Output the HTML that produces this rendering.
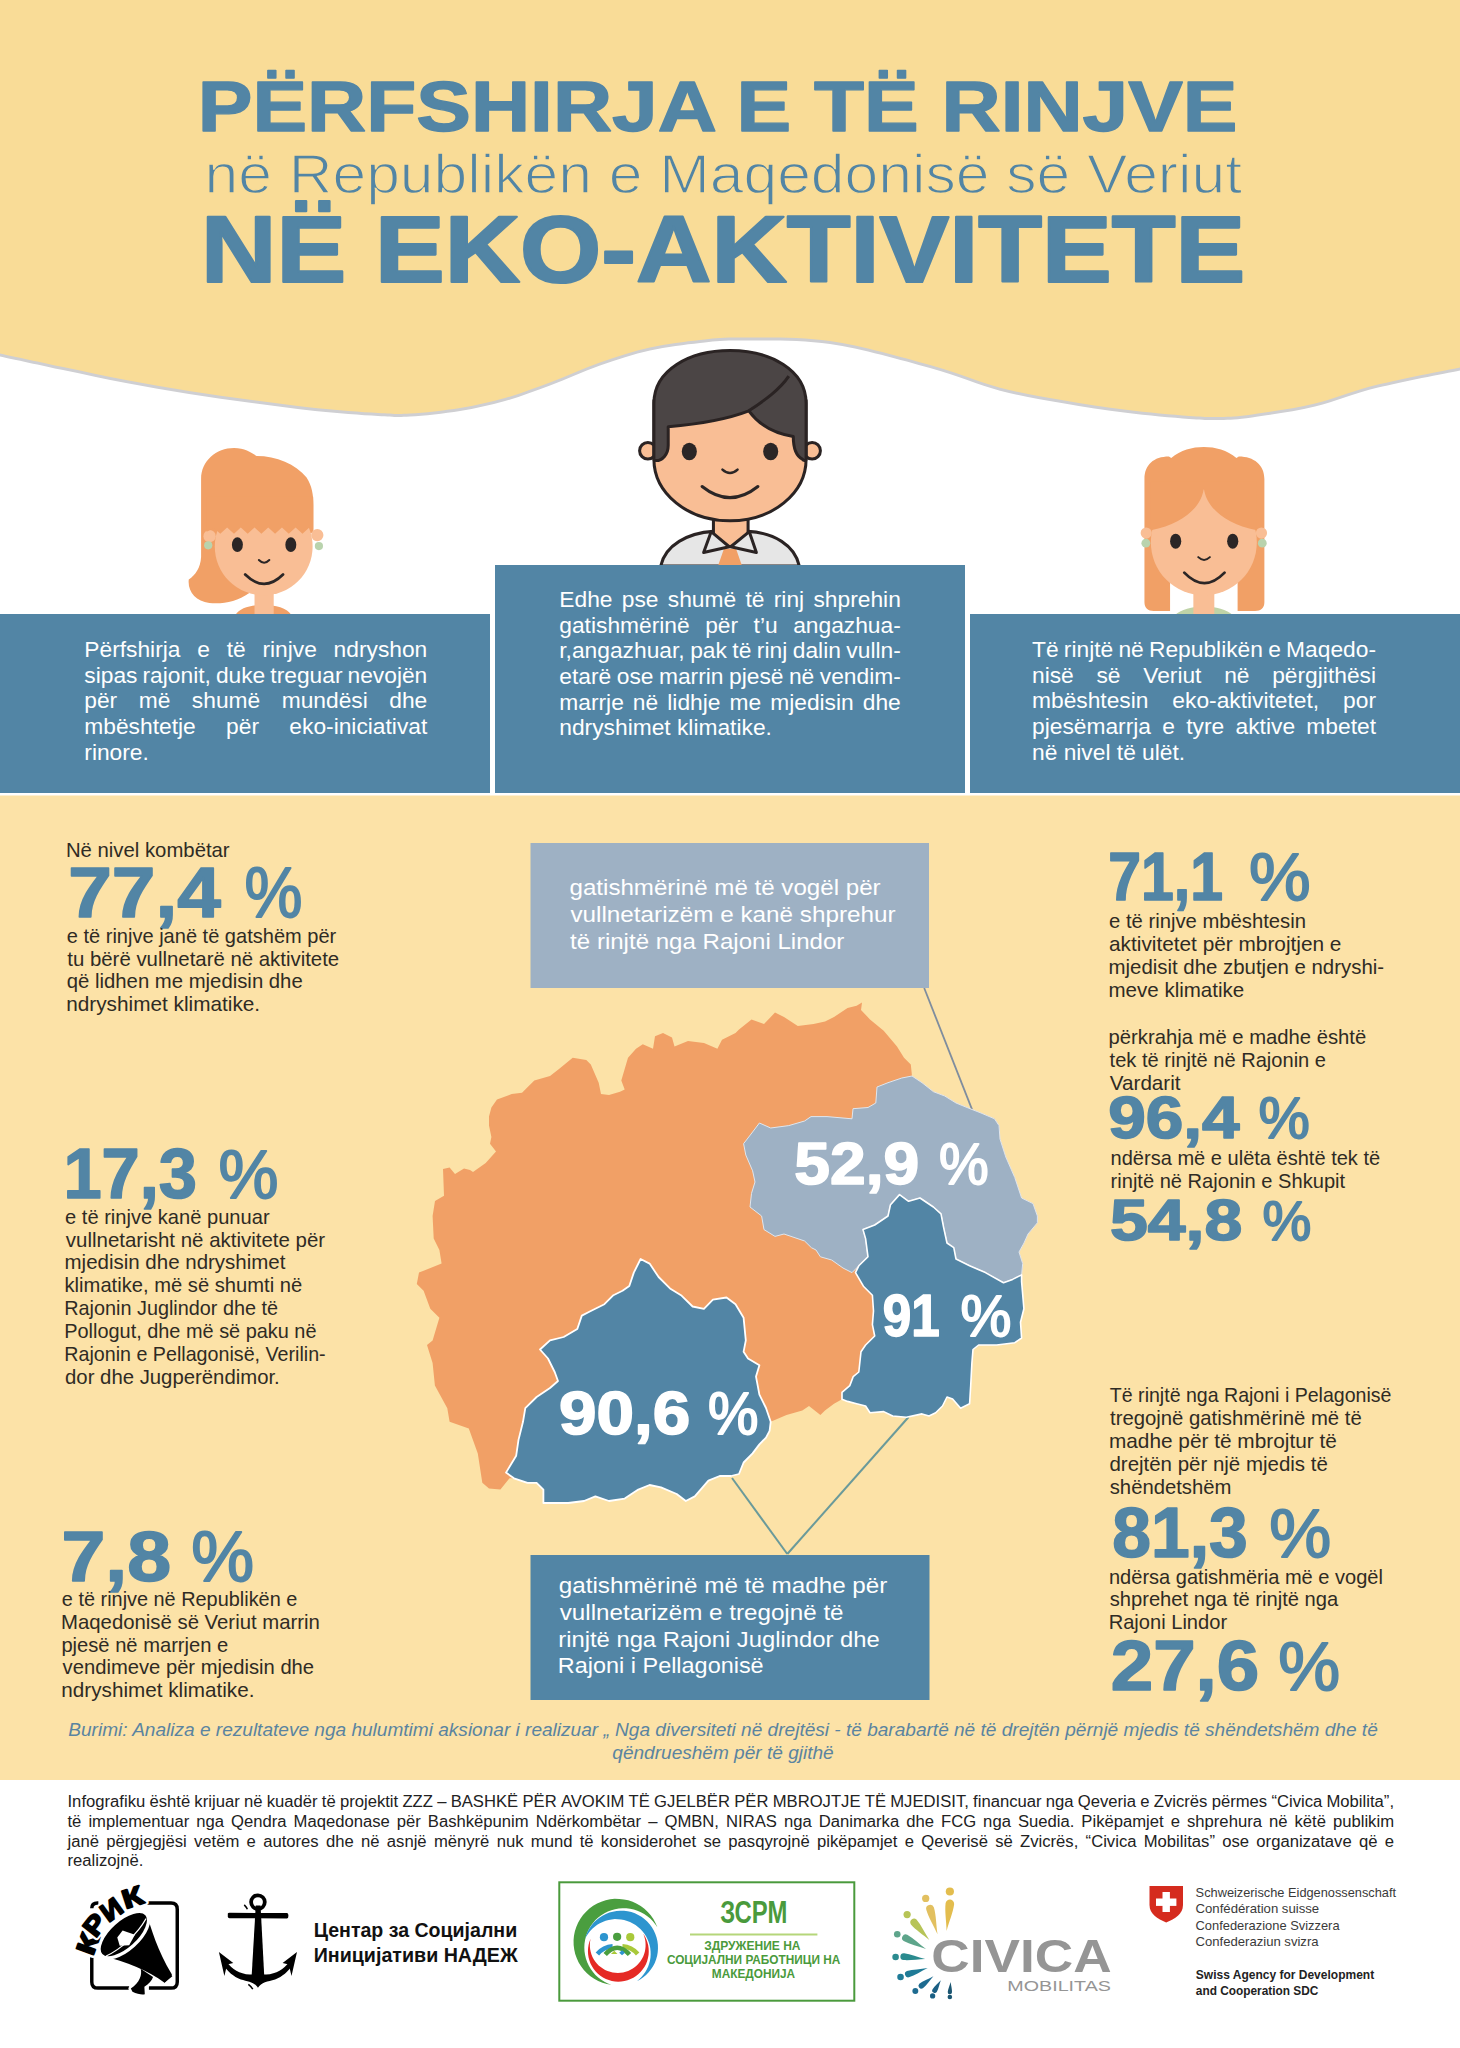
<!DOCTYPE html>
<html><head><meta charset="utf-8"><title>Përfshirja e të rinjve në eko-aktivitete</title>
<style>html,body{margin:0;padding:0;background:#fff}body{width:1460px;height:2048px;overflow:hidden;position:relative}svg{display:block}</style>
</head><body>
<svg width="1460" height="2048" viewBox="0 0 1460 2048">
<rect x="0" y="0" width="1460" height="2048" fill="#ffffff"/>
<rect x="0" y="795.5" width="1460" height="984.5" fill="#FCE2A7"/>
<path d="M-2,-2 L1462,-2 L1462,370  C1448.0,372.9 1402.5,381.5 1378.0,387.6 C1353.5,393.7 1336.0,401.5 1315.0,406.5 C1294.0,411.5 1267.8,415.2 1252.0,417.5 C1236.2,419.8 1230.5,419.8 1220.0,420.0 C1209.5,420.2 1204.7,420.2 1189.0,419.0 C1173.3,417.8 1147.0,415.4 1126.0,412.8 C1105.0,410.2 1084.0,407.0 1063.0,403.3 C1042.0,399.6 1022.2,396.6 1000.0,390.7 C977.8,384.8 958.3,375.8 930.0,368.0 C901.7,360.2 861.7,348.6 830.0,344.0 C798.3,339.4 761.7,340.7 740.0,340.5 C718.3,340.3 715.0,341.3 700.0,343.0 C685.0,344.7 666.7,346.8 650.0,350.5 C633.3,354.2 616.7,359.7 600.0,365.5 C583.3,371.3 565.8,379.6 550.0,385.5 C534.2,391.4 520.0,396.8 505.0,401.0 C490.0,405.2 475.8,408.4 460.0,411.0 C444.2,413.6 423.7,415.8 410.0,416.6 C396.3,417.4 393.8,416.9 378.0,416.0 C362.2,415.1 336.0,413.2 315.0,411.0 C294.0,408.8 273.0,405.8 252.0,403.0 C231.0,400.2 210.0,397.3 189.0,394.0 C168.0,390.7 147.0,387.0 126.0,383.0 C105.0,379.0 84.3,374.5 63.0,370.0 C41.7,365.5 8.8,358.3 -2.0,356.0 Z" fill="#cfcfd2"/>
<path d="M-2,-2 L1462,-2 L1462,367  C1448.0,369.9 1402.5,378.5 1378.0,384.6 C1353.5,390.7 1336.0,398.5 1315.0,403.5 C1294.0,408.5 1267.8,412.2 1252.0,414.5 C1236.2,416.8 1230.5,416.8 1220.0,417.0 C1209.5,417.2 1204.7,417.2 1189.0,416.0 C1173.3,414.8 1147.0,412.4 1126.0,409.8 C1105.0,407.2 1084.0,404.0 1063.0,400.3 C1042.0,396.6 1022.2,393.6 1000.0,387.7 C977.8,381.8 958.3,372.8 930.0,365.0 C901.7,357.2 861.7,345.6 830.0,341.0 C798.3,336.4 761.7,337.7 740.0,337.5 C718.3,337.3 715.0,338.3 700.0,340.0 C685.0,341.7 666.7,343.8 650.0,347.5 C633.3,351.2 616.7,356.7 600.0,362.5 C583.3,368.3 565.8,376.6 550.0,382.5 C534.2,388.4 520.0,393.8 505.0,398.0 C490.0,402.2 475.8,405.4 460.0,408.0 C444.2,410.6 423.7,412.8 410.0,413.6 C396.3,414.4 393.8,413.9 378.0,413.0 C362.2,412.1 336.0,410.2 315.0,408.0 C294.0,405.8 273.0,402.8 252.0,400.0 C231.0,397.2 210.0,394.3 189.0,391.0 C168.0,387.7 147.0,384.0 126.0,380.0 C105.0,376.0 84.3,371.5 63.0,367.0 C41.7,362.5 8.8,355.3 -2.0,353.0 Z" fill="#F9DC97"/>
<g transform="translate(620,340) scale(0.15069)"><g stroke="#2a2323" stroke-width="20" stroke-linejoin="round">
<path d="M270,1500 C300,1360 450,1280 620,1270 L850,1270 C1020,1280 1160,1360 1190,1500 Z" fill="#e6e6e6"/>
<path d="M650,1500 L690,1385 L770,1385 L810,1500 Z" fill="#F1A066" stroke="none"/>
<path d="M620,1190 L620,1290 C620,1340 670,1370 730,1370 C790,1370 850,1340 850,1290 L850,1190 Z" fill="#F9BE95"/>
<path d="M605,1272 L555,1410 L725,1372 Z" fill="#e6e6e6"/>
<path d="M858,1272 L905,1410 L735,1372 Z" fill="#e6e6e6"/>
<circle cx="185" cy="735" r="55" fill="#F9BE95"/>
<circle cx="1275" cy="735" r="55" fill="#F9BE95"/>
<path d="M225,400 L225,790 C225,1020 450,1200 730,1200 C1010,1200 1235,1020 1235,790 L1235,400 Z" fill="#F9BE95"/>
<path d="M225,790 L225,420 C225,200 460,70 730,70 C1000,70 1235,200 1235,420 L1235,790 C1235,800 1220,805 1210,790 C1170,770 1150,720 1150,640 C1020,620 920,560 855,470 C700,530 500,560 320,575 L320,700 C320,760 280,800 240,800 C232,800 225,796 225,790 Z" fill="#4b4545"/>
<path d="M855,470 C960,400 1060,330 1120,240" fill="none"/>
</g>
<ellipse cx="460" cy="740" rx="50" ry="58" fill="#2b2626"/>
<ellipse cx="1000" cy="740" rx="50" ry="58" fill="#2b2626"/>
<path d="M680,860 Q730,905 780,860" fill="none" stroke="#2b2626" stroke-width="17" stroke-linecap="round"/>
<path d="M545,972 Q730,1120 915,972" fill="none" stroke="#2b2626" stroke-width="20" stroke-linecap="round"/>
</g>
<g transform="translate(160,420) scale(0.13699)">
<path d="M550,1425 C580,1370 670,1350 755,1350 C840,1350 930,1370 960,1425 Z" fill="#F1A066"/>
<rect x="690" y="1230" width="140" height="200" fill="#F9BE95"/>
<path d="M300,430 C300,300 410,205 540,205 C620,205 665,240 705,262 C850,262 990,320 1070,420 C1110,480 1120,550 1120,620 L1120,820 L700,980 L652,1262 C560,1325 460,1345 360,1335 C260,1325 200,1250 210,1165 C260,1130 295,1080 300,1000 Z" fill="#F1A066"/>
<circle cx="362" cy="848" r="45" fill="#F9BE95"/>
<circle cx="1148" cy="840" r="45" fill="#F9BE95"/>
<circle cx="757" cy="923" r="357" fill="#F9BE95"/>
<path d="M340,560 L1118,560 L1118,800 L1090,785 L1040,830 L990,785 L940,830 L890,785 L840,830 L790,785 L740,830 L690,785 L640,830 L590,785 L540,830 L490,785 L440,830 L395,790 L340,815 Z" fill="#F1A066"/>
<circle cx="352" cy="915" r="30" fill="#b9d3ad"/>
<circle cx="1160" cy="920" r="30" fill="#b9d3ad"/>
<ellipse cx="565" cy="910" rx="40" ry="54" fill="#2b2626"/>
<ellipse cx="955" cy="910" rx="40" ry="54" fill="#2b2626"/>
<path d="M722,1022 Q760,1062 798,1022" fill="none" stroke="#2b2626" stroke-width="15" stroke-linecap="round"/>
<path d="M622,1128 Q760,1265 898,1128" fill="none" stroke="#2b2626" stroke-width="20" stroke-linecap="round"/>
</g>
<g transform="translate(1120,430) scale(0.11644)">
<path d="M470,1590 C520,1540 620,1515 720,1515 C820,1515 920,1540 970,1590 Z" fill="#bfd3a7"/>
<rect x="630" y="1330" width="180" height="270" fill="#F9BE95"/>
<path d="M210,420 C210,300 290,228 420,228 L440,240 C520,172 620,145 720,145 C820,145 920,172 1000,240 L1020,228 C1150,228 1240,300 1240,420 L1240,1480 C1240,1530 1210,1555 1160,1555 L1010,1555 L1010,1000 L430,1000 L430,1555 L290,1555 C240,1555 210,1530 210,1480 Z" fill="#F1A066"/>
<circle cx="225" cy="885" r="48" fill="#F9BE95"/>
<circle cx="1215" cy="885" r="48" fill="#F9BE95"/>
<circle cx="720" cy="965" r="455" fill="#F9BE95"/>
<path d="M720,495 C705,650 560,800 265,862 L265,440 L1175,440 L1175,862 C880,800 735,650 720,495 Z" fill="#F1A066"/>
<circle cx="222" cy="972" r="38" fill="#b9d3ad"/>
<circle cx="1222" cy="972" r="38" fill="#b9d3ad"/>
<ellipse cx="478" cy="955" rx="48" ry="65" fill="#2b2626"/>
<ellipse cx="968" cy="955" rx="48" ry="65" fill="#2b2626"/>
<path d="M672,1092 Q722,1140 772,1092" fill="none" stroke="#2b2626" stroke-width="17" stroke-linecap="round"/>
<path d="M552,1225 Q725,1405 898,1225" fill="none" stroke="#2b2626" stroke-width="24" stroke-linecap="round"/>
</g>
<rect x="0" y="614" width="490" height="179" fill="#5285A5"/>
<rect x="495" y="565" width="470" height="228" fill="#5285A5"/>
<rect x="970" y="614" width="490" height="179" fill="#5285A5"/>
<line x1="924.2" y1="988" x2="972.5" y2="1110.7" stroke="#7f8d9e" stroke-width="1.8"/>
<line x1="732" y1="1478" x2="787.3" y2="1554" stroke="#6a9a9a" stroke-width="2"/>
<line x1="908.6" y1="1417" x2="787.3" y2="1554" stroke="#6a9a9a" stroke-width="2"/>
<rect x="530.5" y="843" width="398.5" height="145" fill="#9EB1C4"/>
<rect x="530.5" y="1555" width="399" height="145" fill="#5285A5"/>
<g id="map">
<path d="M443.0,1169.0 L449.6,1167.4 L455.0,1174.0 L464.0,1168.6 L470.0,1170.0 L473.0,1172.0 L485.7,1163.0 L496.0,1151.6 L490.0,1143.7 L491.4,1137.0 L489.0,1125.6 L489.0,1116.6 L491.4,1107.5 L497.0,1099.6 L511.7,1094.0 L522.0,1092.8 L534.3,1080.4 L550.0,1076.0 L559.0,1069.0 L572.7,1057.8 L586.3,1060.0 L590.8,1064.6 L598.7,1082.7 L601.0,1094.0 L609.0,1095.0 L620.0,1091.7 L624.7,1089.5 L621.3,1080.4 L628.0,1057.8 L636.0,1048.8 L642.8,1044.2 L653.0,1048.8 L655.0,1036.3 L663.0,1033.0 L672.0,1037.5 L674.5,1046.5 L688.0,1041.0 L704.0,1043.0 L717.4,1048.8 L722.0,1039.7 L735.5,1033.0 L739.0,1029.6 L751.5,1019.4 L764.0,1024.0 L775.0,1012.6 L784.0,1017.0 L797.8,1026.0 L813.6,1024.0 L825.0,1021.6 L834.0,1017.0 L847.5,1008.0 L856.6,1005.8 L862.0,1002.4 L861.0,1010.0 L870.0,1019.4 L883.7,1030.7 L897.0,1046.5 L904.0,1057.8 L910.8,1064.6 L912.0,1076.0 L922.0,1082.7 L933.4,1091.7 L944.7,1096.0 L956.0,1103.0 L967.0,1107.5 L981.0,1113.0 L994.5,1118.8 L999.0,1125.6 L1000.0,1139.0 L1005.8,1157.0 L1014.8,1177.6 L1021.6,1198.0 L1033.0,1203.6 L1037.4,1216.0 L1037.4,1222.8 L1028.0,1234.0 L1024.0,1243.0 L1019.0,1252.0 L1022.7,1263.6 L1021.6,1274.9 L1021.6,1281.6 L1023.9,1308.8 L1020.5,1322.3 L1021.6,1338.0 L1014.8,1342.7 L996.7,1345.0 L978.6,1345.0 L973.0,1349.5 L971.9,1363.0 L970.7,1385.6 L969.6,1403.7 L960.6,1408.2 L952.6,1399.0 L947.0,1397.0 L942.5,1406.0 L935.7,1412.7 L929.0,1416.0 L922.0,1413.9 L906.3,1417.3 L892.7,1416.0 L883.7,1411.6 L870.0,1412.7 L865.6,1406.0 L856.6,1403.7 L847.5,1401.4 L842.0,1399.2 L834.0,1403.7 L825.0,1410.5 L820.4,1415.0 L809.0,1406.0 L802.3,1410.5 L786.5,1415.0 L770.7,1421.8 L769.6,1430.8 L766.0,1437.6 L759.4,1444.4 L752.6,1453.4 L743.6,1462.5 L739.0,1474.0 L731.0,1476.0 L719.7,1476.0 L708.4,1480.6 L694.8,1496.4 L685.8,1501.0 L676.7,1494.0 L661.0,1487.3 L649.6,1485.0 L638.3,1489.6 L624.7,1498.6 L609.0,1501.0 L595.4,1496.4 L584.0,1501.0 L568.2,1503.0 L543.4,1503.0 L543.4,1489.6 L536.6,1482.8 L527.5,1482.8 L514.0,1478.3 L509.5,1478.3 L500.4,1489.6 L489.0,1488.5 L482.3,1482.8 L477.8,1453.4 L468.8,1428.6 L449.6,1421.8 L447.3,1408.2 L434.9,1385.6 L432.6,1363.0 L427.0,1345.0 L432.6,1340.4 L439.4,1317.8 L430.3,1308.8 L423.6,1290.7 L416.8,1284.0 L419.0,1272.6 L441.6,1263.6 L439.4,1250.0 L433.7,1238.6 L432.6,1216.0 L435.0,1201.0 L444.0,1195.7 Z" fill="#F1A066"/>
<path d="M912.0,1076.0 L922.0,1082.7 L933.4,1091.7 L944.7,1096.0 L956.0,1103.0 L967.0,1107.5 L981.0,1113.0 L994.5,1118.8 L999.0,1125.6 L1000.0,1139.0 L1005.8,1157.0 L1014.8,1177.6 L1021.6,1198.0 L1033.0,1203.6 L1037.4,1216.0 L1037.4,1222.8 L1028.0,1234.0 L1024.0,1243.0 L1019.0,1252.0 L1022.7,1263.6 L1021.6,1274.9 L1012.6,1279.4 L1003.5,1282.8 L985.4,1272.6 L969.6,1265.8 L956.0,1259.0 L953.8,1250.0 L947.0,1243.0 L943.6,1227.3 L941.0,1213.8 L933.4,1207.0 L920.0,1198.0 L908.6,1201.3 L899.5,1194.6 L890.5,1204.7 L888.0,1216.0 L874.7,1225.0 L863.0,1229.6 L865.6,1238.6 L868.0,1256.8 L858.8,1265.8 L852.0,1272.6 L843.0,1268.0 L831.7,1260.0 L820.4,1256.8 L816.0,1250.0 L811.4,1247.7 L804.6,1241.0 L784.0,1234.0 L775.0,1236.4 L764.0,1229.6 L761.6,1216.0 L750.0,1207.0 L751.5,1193.4 L755.0,1182.0 L752.6,1170.8 L745.8,1155.0 L743.6,1143.7 L752.6,1132.0 L759.4,1123.0 L770.7,1128.0 L788.8,1125.6 L804.6,1121.0 L811.0,1116.6 L827.0,1116.6 L852.0,1118.8 L853.0,1108.7 L868.0,1107.5 L875.8,1103.0 L877.0,1087.0 L888.0,1082.7 L901.8,1078.0 Z" fill="#9EB1C4" stroke="#dfe6ee" stroke-width="1" stroke-linejoin="round"/>
<path d="M863.0,1229.6 L874.7,1225.0 L888.0,1216.0 L890.5,1204.7 L899.5,1194.6 L908.6,1201.3 L920.0,1198.0 L933.4,1207.0 L941.0,1213.8 L943.6,1227.3 L947.0,1243.0 L953.8,1247.7 L956.0,1259.0 L969.6,1265.8 L985.4,1272.6 L1003.5,1282.8 L1012.6,1279.4 L1021.6,1274.9 L1021.6,1281.6 L1023.9,1308.8 L1020.5,1322.3 L1021.6,1338.0 L1014.8,1342.7 L996.7,1345.0 L978.6,1345.0 L973.0,1349.5 L971.9,1363.0 L970.7,1385.6 L969.6,1403.7 L960.6,1408.2 L952.6,1399.0 L947.0,1397.0 L942.5,1406.0 L935.7,1412.7 L929.0,1416.0 L922.0,1413.9 L906.3,1417.3 L892.7,1416.0 L883.7,1411.6 L870.0,1412.7 L865.6,1406.0 L856.6,1403.7 L847.5,1401.4 L842.0,1399.2 L842.0,1392.4 L849.8,1385.6 L853.2,1376.6 L858.8,1372.0 L861.0,1351.7 L865.6,1345.0 L874.7,1336.0 L872.4,1324.6 L873.5,1311.0 L872.4,1295.2 L863.4,1286.2 L855.5,1272.6 L858.8,1265.8 L868.0,1256.8 L865.6,1238.6 Z" fill="#5285A5" stroke="#ffffff" stroke-width="1.6" stroke-linejoin="round"/>
<path d="M640.6,1259.0 L649.6,1263.6 L658.6,1277.0 L670.0,1288.4 L681.0,1295.2 L692.6,1306.5 L703.9,1308.8 L712.9,1299.7 L726.5,1297.5 L735.5,1304.2 L743.6,1317.8 L745.8,1340.4 L743.6,1351.7 L748.0,1358.5 L759.4,1365.3 L756.0,1376.6 L759.4,1394.7 L766.0,1408.0 L770.7,1421.8 L769.6,1430.8 L766.0,1437.6 L759.4,1444.4 L752.6,1453.4 L743.6,1462.5 L739.0,1474.0 L731.0,1476.0 L719.7,1476.0 L708.4,1480.6 L694.8,1496.4 L685.8,1501.0 L676.7,1494.0 L661.0,1487.3 L649.6,1485.0 L638.3,1489.6 L624.7,1498.6 L609.0,1501.0 L595.4,1496.4 L584.0,1501.0 L568.2,1503.0 L543.4,1503.0 L543.4,1489.6 L536.6,1482.8 L527.5,1482.8 L514.0,1478.3 L506.0,1472.6 L516.2,1455.7 L518.5,1439.9 L523.0,1421.8 L525.3,1408.2 L536.6,1397.0 L550.0,1388.0 L558.0,1381.0 L554.7,1372.0 L548.0,1358.5 L540.0,1349.5 L550.0,1340.4 L563.7,1337.0 L577.3,1329.0 L581.8,1315.6 L590.8,1311.0 L604.4,1304.2 L613.4,1295.2 L622.5,1290.7 L629.3,1286.0 L633.8,1272.6 Z" fill="#5285A5" stroke="#ffffff" stroke-width="1.8" stroke-linejoin="round"/>
</g>
<g transform="translate(70,1880) scale(0.08219)">
<path d="M940,280 L1230,280 Q1305,280 1305,355 L1305,1240 Q1305,1315 1230,1315 L960,1315 M720,1315 L340,1315 Q265,1315 265,1240 L265,940 M265,345 Q265,280 335,280 L345,280" fill="none" stroke="#000" stroke-width="42"/>
<g stroke="#fff" stroke-width="60" stroke-linejoin="round">
<path d="M934,414 C990,600 1060,850 1240,1150 L1150,1250 C950,1100 700,1000 376,916 Z" fill="#000"/>
<path d="M860,1080 C880,1150 850,1250 740,1320 L760,1360 C820,1390 880,1400 910,1390 L905,1300 C960,1260 1000,1220 1010,1180 Z" fill="#000"/>
</g>
<path d="M934,414 C990,600 1060,850 1240,1150 L1150,1250 C950,1100 700,1000 376,916 Z" fill="#000"/>
<path d="M860,1080 C880,1150 850,1250 740,1320 L760,1360 C820,1390 880,1400 910,1390 L905,1300 C960,1260 1000,1220 1010,1180 Z" fill="#000"/>
<path d="M1110,1150 L1200,1100 L1245,1170 L1150,1250 Z" fill="#000"/>
<ellipse cx="655" cy="665" rx="372" ry="178" transform="rotate(-42 655 665)" fill="#000" stroke="#fff" stroke-width="40"/>
<path d="M440,925 C620,840 820,660 925,470" stroke="#fff" stroke-width="14" fill="none"/>
<path d="M575,700 L640,615 L790,665 L720,795 L605,800 Z" fill="#fff"/>
<text transform="translate(215,775) rotate(-70)" x="0" y="110" text-anchor="middle" style="font-family:'Liberation Sans',Arial,sans-serif;font-weight:700;font-size:320px" textLength="250" lengthAdjust="spacingAndGlyphs" fill="#fff" stroke="#fff" stroke-width="70" stroke-linejoin="round">К</text><text transform="translate(215,775) rotate(-70)" x="0" y="110" text-anchor="middle" style="font-family:'Liberation Sans',Arial,sans-serif;font-weight:700;font-size:320px" textLength="250" lengthAdjust="spacingAndGlyphs" fill="#000" stroke="#000" stroke-width="22" stroke-linejoin="round">К</text>
<text transform="translate(300,545) rotate(-52)" x="0" y="110" text-anchor="middle" style="font-family:'Liberation Sans',Arial,sans-serif;font-weight:700;font-size:320px" textLength="250" lengthAdjust="spacingAndGlyphs" fill="#fff" stroke="#fff" stroke-width="70" stroke-linejoin="round">Р</text><text transform="translate(300,545) rotate(-52)" x="0" y="110" text-anchor="middle" style="font-family:'Liberation Sans',Arial,sans-serif;font-weight:700;font-size:320px" textLength="250" lengthAdjust="spacingAndGlyphs" fill="#000" stroke="#000" stroke-width="22" stroke-linejoin="round">Р</text>
<text transform="translate(505,360) rotate(-36)" x="0" y="110" text-anchor="middle" style="font-family:'Liberation Sans',Arial,sans-serif;font-weight:700;font-size:320px" textLength="250" lengthAdjust="spacingAndGlyphs" fill="#fff" stroke="#fff" stroke-width="70" stroke-linejoin="round">И</text><text transform="translate(505,360) rotate(-36)" x="0" y="110" text-anchor="middle" style="font-family:'Liberation Sans',Arial,sans-serif;font-weight:700;font-size:320px" textLength="250" lengthAdjust="spacingAndGlyphs" fill="#000" stroke="#000" stroke-width="22" stroke-linejoin="round">И</text>
<text transform="translate(760,210) rotate(-18)" x="0" y="110" text-anchor="middle" style="font-family:'Liberation Sans',Arial,sans-serif;font-weight:700;font-size:320px" textLength="250" lengthAdjust="spacingAndGlyphs" fill="#fff" stroke="#fff" stroke-width="70" stroke-linejoin="round">К</text><text transform="translate(760,210) rotate(-18)" x="0" y="110" text-anchor="middle" style="font-family:'Liberation Sans',Arial,sans-serif;font-weight:700;font-size:320px" textLength="250" lengthAdjust="spacingAndGlyphs" fill="#000" stroke="#000" stroke-width="22" stroke-linejoin="round">К</text>
</g>
<g transform="translate(210,1885) scale(0.06849)">
<circle cx="700" cy="250" r="100" fill="none" stroke="#000" stroke-width="55"/>
<path d="M260,420 Q260,405 285,405 L1125,410 Q1145,412 1145,450 Q1145,488 1125,490 L285,484 Q260,482 260,465 Z" fill="#000"/>
<path d="M668,300 L738,300 L792,1330 L608,1330 Z" fill="#000"/>
<path d="M700,1500 C650,1420 560,1410 450,1380 C340,1340 260,1260 200,1180 L250,1130 C320,1220 430,1300 580,1305 L820,1305 C970,1300 1080,1220 1150,1130 L1200,1180 C1140,1260 1060,1340 950,1380 C840,1410 750,1420 700,1500 Z" fill="#000"/>
<path d="M130,980 L340,1140 L250,1160 L210,1330 Z" fill="#000"/>
<path d="M1270,980 L1060,1140 L1150,1160 L1190,1330 Z" fill="#000"/>
<path d="M500,290 Q530,320 545,355" stroke="#000" stroke-width="22" fill="none"/>
<path d="M560,1450 Q600,1480 625,1520" stroke="#000" stroke-width="22" fill="none"/>
</g>
<rect x="559.3" y="1882.3" width="295" height="118.4" fill="#fff" stroke="#4a9a3c" stroke-width="2"/><g transform="translate(560,1885) scale(0.08219)"><path d="M1185,515 L1163,464 L1136,415 L1104,369 L1068,327 L1027,290 L982,256 L934,228 L884,205 L831,187 L776,175 L721,169 L665,168 L610,174 L556,186 L503,203 L452,225 L403,253 L358,286 L317,324 L280,365 L248,410 L220,459 L198,510 L181,563 L170,618 L165,673 L166,729 L173,784 L185,838 L204,891 L227,942 L256,989 L290,1034 L328,1074 L370,1110 L416,1142 L465,1168 L517,1190 L570,1205 L625,1215 L582,1199 L541,1178 L502,1154 L465,1125 L431,1094 L401,1059 L374,1022 L351,982 L331,940 L316,897 L305,852 L298,807 L296,761 L298,715 L305,669 L316,624 L331,581 L351,539 L374,499 L401,462 L431,427 L465,396 L502,368 L541,343 L582,323 L625,306 L669,294 L715,286 L761,282 L807,283 L853,289 L898,298 L942,312 L984,331 L1024,353 L1063,379 L1098,408 L1130,441 L1159,477 Z" fill="#4a9e3f"/><path d="M305,655 L318,612 L335,570 L357,530 L382,492 L411,457 L444,426 L479,397 L517,373 L558,352 L600,336 L644,324 L688,316 L733,313 L779,314 L824,320 L868,330 L911,345 L952,364 L991,387 L1027,414 L1061,445 L1091,478 L1118,515 L1141,554 L1160,595 L1175,638 L1185,682 L1191,727 L1192,772 L1189,818 L1182,862 L1169,906 L1153,948 L1132,988 L1107,1026 L1079,1062 L1047,1094 L1013,1123 L975,1149 L935,1170 L964,1146 L991,1119 L1016,1090 L1038,1059 L1057,1026 L1073,991 L1085,956 L1095,919 L1101,881 L1103,843 L1102,805 L1098,768 L1090,730 L1079,694 L1065,659 L1047,625 L1027,593 L1003,563 L978,535 L949,510 L919,487 L886,467 L852,450 L817,437 L780,426 L743,419 L705,416 L667,415 L629,419 L592,425 L555,435 L519,449 L485,465 L453,485 L422,507 L393,532 L367,560 L344,590 L323,621 Z" fill="#2d95cf"/><path d="M372,655 L358,691 L348,728 L342,767 L340,805 L342,844 L348,882 L358,919 L371,955 L389,990 L410,1022 L434,1052 L461,1080 L491,1104 L523,1125 L558,1143 L594,1157 L631,1167 L669,1174 L708,1176 L746,1174 L784,1168 L822,1159 L858,1145 L893,1128 L925,1107 L955,1083 L983,1056 L1007,1026 L1029,994 L1047,960 L1061,924 L1071,886 L1078,848 L1080,810 L1078,771 L1073,733 L1063,696 L1050,659 L1033,625 L1012,592 L1024,622 L1033,653 L1039,684 L1041,716 L1041,748 L1038,780 L1032,812 L1023,843 L1011,872 L996,901 L979,928 L959,953 L937,976 L912,997 L886,1016 L858,1032 L829,1046 L799,1056 L768,1064 L736,1068 L704,1070 L672,1069 L640,1064 L609,1057 L578,1046 L549,1033 L521,1017 L495,999 L470,978 L448,955 L428,930 L410,903 L395,875 L383,845 L374,814 L367,783 L364,751 L364,719 L366,687 Z" fill="#e52a25"/>
<circle cx="535" cy="635" r="50" fill="#2d95cf"/><circle cx="695" cy="630" r="50" fill="#4a9e3f"/><circle cx="855" cy="635" r="50" fill="#a9c93a"/>
<path d="M455,840 Q530,750 640,745" stroke="#2d95cf" stroke-width="55" fill="none"/>
<path d="M760,745 Q870,750 945,840" stroke="#a9c93a" stroke-width="55" fill="none"/>
<path d="M550,845 Q695,680 845,845" stroke="#4a9e3f" stroke-width="55" fill="none"/>
<path d="M620,840 L660,800 L700,840 Z" fill="#a9c93a"/><path d="M720,825 L755,795 L790,825 L755,855 Z" fill="#2d95cf"/>
</g><line x1="690" y1="1934.5" x2="817.4" y2="1934.5" stroke="#b5d67a" stroke-width="2"/>
<g transform="translate(880,1880) scale(0.16439)"><circle cx="425" cy="70" r="25" fill="#e3bd4e"/><path d="M405,310 C404,251 393,191 399,142 A26,26 0 0 1 451,148 C445,198 420,253 405,310 Z" fill="#e3bd4e"/><circle cx="278" cy="112" r="22" fill="#e2c060"/><path d="M350,330 C327,278 295,228 282,182 A24,24 0 0 1 328,168 C342,215 341,274 350,330 Z" fill="#e2c060"/><circle cx="165" cy="210" r="22" fill="#b7c457"/><path d="M300,365 C262,331 216,303 188,270 A23,23 0 0 1 222,240 C251,273 272,322 300,365 Z" fill="#b7c457"/><circle cx="105" cy="330" r="20" fill="#5ea58b"/><path d="M280,420 C233,402 182,392 144,371 A22,22 0 0 1 166,333 C203,353 239,390 280,420 Z" fill="#5ea58b"/><circle cx="95" cy="468" r="20" fill="#2b8b8f"/><path d="M275,480 C229,481 182,491 143,487 A21,21 0 0 1 147,445 C186,449 230,469 275,480 Z" fill="#2b8b8f"/><circle cx="125" cy="590" r="20" fill="#1f7b97"/><path d="M290,535 C250,554 212,581 176,592 A20,20 0 0 1 164,554 C200,543 246,543 290,535 Z" fill="#1f7b97"/><circle cx="215" cy="675" r="18" fill="#1e6b90"/><path d="M325,585 C302,610 284,641 261,659 A18,18 0 0 1 239,631 C261,613 295,602 325,585 Z" fill="#1e6b90"/><circle cx="320" cy="705" r="16" fill="#1a5f84"/><path d="M370,610 C361,634 357,661 346,680 A15,15 0 0 1 320,664 C331,646 353,629 370,610 Z" fill="#1a5f84"/><circle cx="425" cy="712" r="14" fill="#1b5672"/><path d="M430,620 C432,642 439,664 438,683 A13,13 0 0 1 412,681 C414,662 424,641 430,620 Z" fill="#1b5672"/></g>
<g id="swiss">
<path d="M1149.5,1886 L1183,1886 L1183,1905 C1183,1914 1175,1919 1166.2,1922.4 C1157.5,1919 1149.5,1914 1149.5,1905 Z" fill="#d52b1e"/>
<rect x="1162.5" y="1892" width="7.4" height="20" fill="#fff"/>
<rect x="1156" y="1898.5" width="20.4" height="7.4" fill="#fff"/>
</g>
<text x="197.72" y="130.50" textLength="1039.79" lengthAdjust="spacingAndGlyphs" style="font-family:'Liberation Sans', Arial, sans-serif;font-size:70.34883720930233px;font-weight:700;font-style:normal" fill="#5285A5"  stroke="#5285A5" stroke-width="1.4" stroke-linejoin="round">PËRFSHIRJA E TË RINJVE</text>
<text x="204.48" y="192.50" textLength="1037.57" lengthAdjust="spacingAndGlyphs" style="font-family:'Liberation Sans', Arial, sans-serif;font-size:55.08720930232558px;font-weight:300;font-style:normal" fill="#5285A5" stroke="#F9DC97" stroke-width="1.4" paint-order="fill">në Republikën e Maqedonisë së Veriut</text>
<text x="201.01" y="282.40" textLength="1044.06" lengthAdjust="spacingAndGlyphs" style="font-family:'Liberation Sans', Arial, sans-serif;font-size:93.8953488372093px;font-weight:700;font-style:normal" fill="#5285A5"  stroke="#5285A5" stroke-width="2.2" stroke-linejoin="round">NË EKO-AKTIVITETE</text>
<g style="font-family:'Liberation Sans', Arial, sans-serif;font-size:22px;font-weight:400;font-style:normal" fill="#ffffff"><text x="84.30" y="657.10" textLength="96.17" lengthAdjust="spacingAndGlyphs">Përfshirja</text><text x="197.23" y="657.10" textLength="12.68" lengthAdjust="spacingAndGlyphs">e</text><text x="226.67" y="657.10" textLength="19.00" lengthAdjust="spacingAndGlyphs">të</text><text x="262.44" y="657.10" textLength="54.42" lengthAdjust="spacingAndGlyphs">rinjve</text><text x="333.62" y="657.10" textLength="93.68" lengthAdjust="spacingAndGlyphs">ndryshon</text></g>
<g style="font-family:'Liberation Sans', Arial, sans-serif;font-size:22px;font-weight:400;font-style:normal" fill="#ffffff"><text x="84.30" y="682.70" textLength="53.16" lengthAdjust="spacingAndGlyphs">sipas</text><text x="142.50" y="682.70" textLength="68.36" lengthAdjust="spacingAndGlyphs">rajonit,</text><text x="215.90" y="682.70" textLength="49.39" lengthAdjust="spacingAndGlyphs">duke</text><text x="270.33" y="682.70" textLength="72.16" lengthAdjust="spacingAndGlyphs">treguar</text><text x="347.52" y="682.70" textLength="79.78" lengthAdjust="spacingAndGlyphs">nevojën</text></g>
<g style="font-family:'Liberation Sans', Arial, sans-serif;font-size:22px;font-weight:400;font-style:normal" fill="#ffffff"><text x="84.30" y="708.30" textLength="32.91" lengthAdjust="spacingAndGlyphs">për</text><text x="138.72" y="708.30" textLength="31.63" lengthAdjust="spacingAndGlyphs">më</text><text x="191.86" y="708.30" textLength="68.36" lengthAdjust="spacingAndGlyphs">shumë</text><text x="281.72" y="708.30" textLength="86.07" lengthAdjust="spacingAndGlyphs">mundësi</text><text x="389.30" y="708.30" textLength="38.00" lengthAdjust="spacingAndGlyphs">dhe</text></g>
<g style="font-family:'Liberation Sans', Arial, sans-serif;font-size:22px;font-weight:400;font-style:normal" fill="#ffffff"><text x="84.30" y="733.90" textLength="111.39" lengthAdjust="spacingAndGlyphs">mbështetje</text><text x="226.07" y="733.90" textLength="32.91" lengthAdjust="spacingAndGlyphs">për</text><text x="289.35" y="733.90" textLength="137.95" lengthAdjust="spacingAndGlyphs">eko-iniciativat</text></g>
<text x="84.30" y="759.50" textLength="64.54" lengthAdjust="spacingAndGlyphs" style="font-family:'Liberation Sans', Arial, sans-serif;font-size:22px;font-weight:400;font-style:normal" fill="#ffffff" >rinore.</text>
<g style="font-family:'Liberation Sans', Arial, sans-serif;font-size:22px;font-weight:400;font-style:normal" fill="#ffffff"><text x="559.30" y="607.10" textLength="53.19" lengthAdjust="spacingAndGlyphs">Edhe</text><text x="621.79" y="607.10" textLength="36.73" lengthAdjust="spacingAndGlyphs">pse</text><text x="667.82" y="607.10" textLength="68.36" lengthAdjust="spacingAndGlyphs">shumë</text><text x="745.48" y="607.10" textLength="19.00" lengthAdjust="spacingAndGlyphs">të</text><text x="773.78" y="607.10" textLength="30.37" lengthAdjust="spacingAndGlyphs">rinj</text><text x="813.46" y="607.10" textLength="87.34" lengthAdjust="spacingAndGlyphs">shprehin</text></g>
<g style="font-family:'Liberation Sans', Arial, sans-serif;font-size:22px;font-weight:400;font-style:normal" fill="#ffffff"><text x="559.30" y="632.70" textLength="130.36" lengthAdjust="spacingAndGlyphs">gatishmërinë</text><text x="705.18" y="632.70" textLength="32.91" lengthAdjust="spacingAndGlyphs">për</text><text x="753.60" y="632.70" textLength="24.06" lengthAdjust="spacingAndGlyphs">t’u</text><text x="793.18" y="632.70" textLength="107.62" lengthAdjust="spacingAndGlyphs">angazhua-</text></g>
<g style="font-family:'Liberation Sans', Arial, sans-serif;font-size:22px;font-weight:400;font-style:normal" fill="#ffffff"><text x="559.30" y="658.30" textLength="125.35" lengthAdjust="spacingAndGlyphs">r,angazhuar,</text><text x="690.15" y="658.30" textLength="36.73" lengthAdjust="spacingAndGlyphs">pak</text><text x="732.38" y="658.30" textLength="19.00" lengthAdjust="spacingAndGlyphs">të</text><text x="756.89" y="658.30" textLength="30.37" lengthAdjust="spacingAndGlyphs">rinj</text><text x="792.77" y="658.30" textLength="48.11" lengthAdjust="spacingAndGlyphs">dalin</text><text x="846.38" y="658.30" textLength="54.42" lengthAdjust="spacingAndGlyphs">vulln-</text></g>
<g style="font-family:'Liberation Sans', Arial, sans-serif;font-size:22px;font-weight:400;font-style:normal" fill="#ffffff"><text x="559.30" y="683.90" textLength="51.91" lengthAdjust="spacingAndGlyphs">etarë</text><text x="616.73" y="683.90" textLength="36.73" lengthAdjust="spacingAndGlyphs">ose</text><text x="658.97" y="683.90" textLength="64.53" lengthAdjust="spacingAndGlyphs">marrin</text><text x="729.01" y="683.90" textLength="54.43" lengthAdjust="spacingAndGlyphs">pjesë</text><text x="788.96" y="683.90" textLength="25.34" lengthAdjust="spacingAndGlyphs">në</text><text x="819.81" y="683.90" textLength="80.99" lengthAdjust="spacingAndGlyphs">vendim-</text></g>
<g style="font-family:'Liberation Sans', Arial, sans-serif;font-size:22px;font-weight:400;font-style:normal" fill="#ffffff"><text x="559.30" y="709.50" textLength="64.53" lengthAdjust="spacingAndGlyphs">marrje</text><text x="632.88" y="709.50" textLength="25.34" lengthAdjust="spacingAndGlyphs">në</text><text x="667.29" y="709.50" textLength="53.17" lengthAdjust="spacingAndGlyphs">lidhje</text><text x="729.52" y="709.50" textLength="31.63" lengthAdjust="spacingAndGlyphs">me</text><text x="770.21" y="709.50" textLength="83.53" lengthAdjust="spacingAndGlyphs">mjedisin</text><text x="862.80" y="709.50" textLength="38.00" lengthAdjust="spacingAndGlyphs">dhe</text></g>
<text x="559.30" y="735.10" textLength="212.58" lengthAdjust="spacingAndGlyphs" style="font-family:'Liberation Sans', Arial, sans-serif;font-size:22px;font-weight:400;font-style:normal" fill="#ffffff" >ndryshimet klimatike.</text>
<g style="font-family:'Liberation Sans', Arial, sans-serif;font-size:22px;font-weight:400;font-style:normal" fill="#ffffff"><text x="1032.00" y="657.10" textLength="26.59" lengthAdjust="spacingAndGlyphs">Të</text><text x="1063.83" y="657.10" textLength="49.36" lengthAdjust="spacingAndGlyphs">rinjtë</text><text x="1118.43" y="657.10" textLength="25.34" lengthAdjust="spacingAndGlyphs">në</text><text x="1149.02" y="657.10" textLength="113.93" lengthAdjust="spacingAndGlyphs">Republikën</text><text x="1268.19" y="657.10" textLength="12.68" lengthAdjust="spacingAndGlyphs">e</text><text x="1286.12" y="657.10" textLength="89.88" lengthAdjust="spacingAndGlyphs">Maqedo-</text></g>
<g style="font-family:'Liberation Sans', Arial, sans-serif;font-size:22px;font-weight:400;font-style:normal" fill="#ffffff"><text x="1032.00" y="682.70" textLength="41.77" lengthAdjust="spacingAndGlyphs">nisë</text><text x="1096.47" y="682.70" textLength="24.06" lengthAdjust="spacingAndGlyphs">së</text><text x="1143.23" y="682.70" textLength="58.23" lengthAdjust="spacingAndGlyphs">Veriut</text><text x="1224.17" y="682.70" textLength="25.34" lengthAdjust="spacingAndGlyphs">në</text><text x="1272.21" y="682.70" textLength="103.79" lengthAdjust="spacingAndGlyphs">përgjithësi</text></g>
<g style="font-family:'Liberation Sans', Arial, sans-serif;font-size:22px;font-weight:400;font-style:normal" fill="#ffffff"><text x="1032.00" y="708.30" textLength="116.45" lengthAdjust="spacingAndGlyphs">mbështesin</text><text x="1172.37" y="708.30" textLength="146.81" lengthAdjust="spacingAndGlyphs">eko-aktivitetet,</text><text x="1343.09" y="708.30" textLength="32.91" lengthAdjust="spacingAndGlyphs">por</text></g>
<g style="font-family:'Liberation Sans', Arial, sans-serif;font-size:22px;font-weight:400;font-style:normal" fill="#ffffff"><text x="1032.00" y="733.90" textLength="118.96" lengthAdjust="spacingAndGlyphs">pjesëmarrja</text><text x="1162.28" y="733.90" textLength="12.68" lengthAdjust="spacingAndGlyphs">e</text><text x="1186.28" y="733.90" textLength="37.97" lengthAdjust="spacingAndGlyphs">tyre</text><text x="1235.57" y="733.90" textLength="59.50" lengthAdjust="spacingAndGlyphs">aktive</text><text x="1306.38" y="733.90" textLength="69.62" lengthAdjust="spacingAndGlyphs">mbetet</text></g>
<text x="1032.00" y="759.50" textLength="153.16" lengthAdjust="spacingAndGlyphs" style="font-family:'Liberation Sans', Arial, sans-serif;font-size:22px;font-weight:400;font-style:normal" fill="#ffffff" >në nivel të ulët.</text>
<text x="65.93" y="857.00" textLength="163.71" lengthAdjust="spacingAndGlyphs" style="font-family:'Liberation Sans', Arial, sans-serif;font-size:19.8px;font-weight:400;font-style:normal" fill="#2f2b24" >Në nivel kombëtar</text>
<text x="68.23" y="916.60" textLength="152.59" lengthAdjust="spacingAndGlyphs" style="font-family:'Liberation Sans', Arial, sans-serif;font-size:71.22093023255815px;font-weight:700;font-style:normal" fill="#5285A5"  stroke="#5285A5" stroke-width="1.6" stroke-linejoin="round">77,4</text>
<text x="244.48" y="916.50" textLength="57.95" lengthAdjust="spacingAndGlyphs" style="font-family:'Liberation Sans', Arial, sans-serif;font-size:69.71428571428572px;font-weight:400;font-style:normal" fill="#5285A5"  stroke="#5285A5" stroke-width="1.8" stroke-linejoin="round">%</text>
<text x="66.75" y="943.00" textLength="269.48" lengthAdjust="spacingAndGlyphs" style="font-family:'Liberation Sans', Arial, sans-serif;font-size:19.8px;font-weight:400;font-style:normal" fill="#2f2b24" >e të rinjve janë të gatshëm për</text>
<text x="67.29" y="965.70" textLength="271.92" lengthAdjust="spacingAndGlyphs" style="font-family:'Liberation Sans', Arial, sans-serif;font-size:19.8px;font-weight:400;font-style:normal" fill="#2f2b24" >tu bërë vullnetarë në aktivitete</text>
<text x="66.75" y="988.40" textLength="235.96" lengthAdjust="spacingAndGlyphs" style="font-family:'Liberation Sans', Arial, sans-serif;font-size:19.8px;font-weight:400;font-style:normal" fill="#2f2b24" >që lidhen me mjedisin dhe</text>
<text x="66.22" y="1011.10" textLength="193.88" lengthAdjust="spacingAndGlyphs" style="font-family:'Liberation Sans', Arial, sans-serif;font-size:19.8px;font-weight:400;font-style:normal" fill="#2f2b24" >ndryshimet klimatike.</text>
<text x="63.48" y="1197.70" textLength="133.50" lengthAdjust="spacingAndGlyphs" style="font-family:'Liberation Sans', Arial, sans-serif;font-size:69.62209302325581px;font-weight:700;font-style:normal" fill="#5285A5"  stroke="#5285A5" stroke-width="1.6" stroke-linejoin="round">17,3</text>
<text x="218.49" y="1197.60" textLength="60.01" lengthAdjust="spacingAndGlyphs" style="font-family:'Liberation Sans', Arial, sans-serif;font-size:68.14285714285715px;font-weight:400;font-style:normal" fill="#5285A5"  stroke="#5285A5" stroke-width="1.8" stroke-linejoin="round">%</text>
<text x="65.04" y="1223.70" textLength="204.59" lengthAdjust="spacingAndGlyphs" style="font-family:'Liberation Sans', Arial, sans-serif;font-size:19.8px;font-weight:400;font-style:normal" fill="#2f2b24" >e të rinjve kanë punuar</text>
<text x="65.83" y="1246.53" textLength="259.31" lengthAdjust="spacingAndGlyphs" style="font-family:'Liberation Sans', Arial, sans-serif;font-size:19.8px;font-weight:400;font-style:normal" fill="#2f2b24" >vullnetarisht në aktivitete për</text>
<text x="64.54" y="1269.36" textLength="220.91" lengthAdjust="spacingAndGlyphs" style="font-family:'Liberation Sans', Arial, sans-serif;font-size:19.8px;font-weight:400;font-style:normal" fill="#2f2b24" >mjedisin dhe ndryshimet</text>
<text x="64.54" y="1292.19" textLength="237.66" lengthAdjust="spacingAndGlyphs" style="font-family:'Liberation Sans', Arial, sans-serif;font-size:19.8px;font-weight:400;font-style:normal" fill="#2f2b24" >klimatike, më së shumti në</text>
<text x="64.27" y="1315.02" textLength="213.81" lengthAdjust="spacingAndGlyphs" style="font-family:'Liberation Sans', Arial, sans-serif;font-size:19.8px;font-weight:400;font-style:normal" fill="#2f2b24" >Rajonin Juglindor dhe të</text>
<text x="64.27" y="1337.85" textLength="252.22" lengthAdjust="spacingAndGlyphs" style="font-family:'Liberation Sans', Arial, sans-serif;font-size:19.8px;font-weight:400;font-style:normal" fill="#2f2b24" >Pollogut, dhe më së paku në</text>
<text x="64.28" y="1360.68" textLength="261.39" lengthAdjust="spacingAndGlyphs" style="font-family:'Liberation Sans', Arial, sans-serif;font-size:19.8px;font-weight:400;font-style:normal" fill="#2f2b24" >Rajonin e Pellagonisë, Verilin-</text>
<text x="65.05" y="1383.51" textLength="214.71" lengthAdjust="spacingAndGlyphs" style="font-family:'Liberation Sans', Arial, sans-serif;font-size:19.8px;font-weight:400;font-style:normal" fill="#2f2b24" >dor dhe Jugperëndimor.</text>
<text x="61.41" y="1580.60" textLength="109.61" lengthAdjust="spacingAndGlyphs" style="font-family:'Liberation Sans', Arial, sans-serif;font-size:71.22093023255815px;font-weight:700;font-style:normal" fill="#5285A5"  stroke="#5285A5" stroke-width="1.6" stroke-linejoin="round">7,8</text>
<text x="191.28" y="1580.50" textLength="62.84" lengthAdjust="spacingAndGlyphs" style="font-family:'Liberation Sans', Arial, sans-serif;font-size:69.71428571428572px;font-weight:400;font-style:normal" fill="#5285A5"  stroke="#5285A5" stroke-width="1.8" stroke-linejoin="round">%</text>
<text x="61.85" y="1606.00" textLength="235.43" lengthAdjust="spacingAndGlyphs" style="font-family:'Liberation Sans', Arial, sans-serif;font-size:19.8px;font-weight:400;font-style:normal" fill="#2f2b24" >e të rinjve në Republikën e</text>
<text x="61.03" y="1628.75" textLength="258.89" lengthAdjust="spacingAndGlyphs" style="font-family:'Liberation Sans', Arial, sans-serif;font-size:19.8px;font-weight:400;font-style:normal" fill="#2f2b24" >Maqedonisë së Veriut marrin</text>
<text x="61.40" y="1651.50" textLength="166.90" lengthAdjust="spacingAndGlyphs" style="font-family:'Liberation Sans', Arial, sans-serif;font-size:19.8px;font-weight:400;font-style:normal" fill="#2f2b24" >pjesë në marrjen e</text>
<text x="62.63" y="1674.25" textLength="251.47" lengthAdjust="spacingAndGlyphs" style="font-family:'Liberation Sans', Arial, sans-serif;font-size:19.8px;font-weight:400;font-style:normal" fill="#2f2b24" >vendimeve për mjedisin dhe</text>
<text x="61.33" y="1697.00" textLength="193.06" lengthAdjust="spacingAndGlyphs" style="font-family:'Liberation Sans', Arial, sans-serif;font-size:19.8px;font-weight:400;font-style:normal" fill="#2f2b24" >ndryshimet klimatike.</text>
<text x="1108.27" y="899.70" textLength="114.78" lengthAdjust="spacingAndGlyphs" style="font-family:'Liberation Sans', Arial, sans-serif;font-size:68.89534883720931px;font-weight:700;font-style:normal" fill="#5285A5"  stroke="#5285A5" stroke-width="1.6" stroke-linejoin="round">71,1</text>
<text x="1248.93" y="899.60" textLength="61.64" lengthAdjust="spacingAndGlyphs" style="font-family:'Liberation Sans', Arial, sans-serif;font-size:67.42857142857143px;font-weight:400;font-style:normal" fill="#5285A5"  stroke="#5285A5" stroke-width="1.8" stroke-linejoin="round">%</text>
<text x="1109.04" y="928.00" textLength="196.98" lengthAdjust="spacingAndGlyphs" style="font-family:'Liberation Sans', Arial, sans-serif;font-size:19.8px;font-weight:400;font-style:normal" fill="#2f2b24" >e të rinjve mbështesin</text>
<text x="1109.02" y="950.90" textLength="232.41" lengthAdjust="spacingAndGlyphs" style="font-family:'Liberation Sans', Arial, sans-serif;font-size:19.8px;font-weight:400;font-style:normal" fill="#2f2b24" >aktivitetet për mbrojtjen e</text>
<text x="1108.54" y="973.80" textLength="275.56" lengthAdjust="spacingAndGlyphs" style="font-family:'Liberation Sans', Arial, sans-serif;font-size:19.8px;font-weight:400;font-style:normal" fill="#2f2b24" >mjedisit dhe zbutjen e ndryshi-</text>
<text x="1108.54" y="996.70" textLength="135.68" lengthAdjust="spacingAndGlyphs" style="font-family:'Liberation Sans', Arial, sans-serif;font-size:19.8px;font-weight:400;font-style:normal" fill="#2f2b24" >meve klimatike</text>
<text x="1108.59" y="1043.60" textLength="257.61" lengthAdjust="spacingAndGlyphs" style="font-family:'Liberation Sans', Arial, sans-serif;font-size:19.8px;font-weight:400;font-style:normal" fill="#2f2b24" >përkrahja më e madhe është</text>
<text x="1109.60" y="1066.80" textLength="216.40" lengthAdjust="spacingAndGlyphs" style="font-family:'Liberation Sans', Arial, sans-serif;font-size:19.8px;font-weight:400;font-style:normal" fill="#2f2b24" >tek të rinjtë në Rajonin e</text>
<text x="1109.81" y="1090.00" textLength="70.74" lengthAdjust="spacingAndGlyphs" style="font-family:'Liberation Sans', Arial, sans-serif;font-size:19.8px;font-weight:400;font-style:normal" fill="#2f2b24" >Vardarit</text>
<text x="1108.26" y="1138.20" textLength="131.40" lengthAdjust="spacingAndGlyphs" style="font-family:'Liberation Sans', Arial, sans-serif;font-size:59.01162790697675px;font-weight:700;font-style:normal" fill="#5285A5"  stroke="#5285A5" stroke-width="1.6" stroke-linejoin="round">96,4</text>
<text x="1258.54" y="1138.10" textLength="51.31" lengthAdjust="spacingAndGlyphs" style="font-family:'Liberation Sans', Arial, sans-serif;font-size:57.71428571428573px;font-weight:400;font-style:normal" fill="#5285A5"  stroke="#5285A5" stroke-width="1.8" stroke-linejoin="round">%</text>
<text x="1110.57" y="1164.80" textLength="269.62" lengthAdjust="spacingAndGlyphs" style="font-family:'Liberation Sans', Arial, sans-serif;font-size:19.8px;font-weight:400;font-style:normal" fill="#2f2b24" >ndërsa më e ulëta është tek të</text>
<text x="1110.56" y="1188.40" textLength="234.58" lengthAdjust="spacingAndGlyphs" style="font-family:'Liberation Sans', Arial, sans-serif;font-size:19.8px;font-weight:400;font-style:normal" fill="#2f2b24" >rinjtë në Rajonin e Shkupit</text>
<text x="1110.01" y="1239.90" textLength="132.18" lengthAdjust="spacingAndGlyphs" style="font-family:'Liberation Sans', Arial, sans-serif;font-size:56.83139534883722px;font-weight:700;font-style:normal" fill="#5285A5"  stroke="#5285A5" stroke-width="1.6" stroke-linejoin="round">54,8</text>
<text x="1262.44" y="1239.80" textLength="48.81" lengthAdjust="spacingAndGlyphs" style="font-family:'Liberation Sans', Arial, sans-serif;font-size:55.571428571428584px;font-weight:400;font-style:normal" fill="#5285A5"  stroke="#5285A5" stroke-width="1.8" stroke-linejoin="round">%</text>
<text x="1109.86" y="1401.60" textLength="281.61" lengthAdjust="spacingAndGlyphs" style="font-family:'Liberation Sans', Arial, sans-serif;font-size:19.8px;font-weight:400;font-style:normal" fill="#2f2b24" >Të rinjtë nga Rajoni i Pelagonisë</text>
<text x="1109.99" y="1424.70" textLength="251.71" lengthAdjust="spacingAndGlyphs" style="font-family:'Liberation Sans', Arial, sans-serif;font-size:19.8px;font-weight:400;font-style:normal" fill="#2f2b24" >tregojnë gatishmërinë më të</text>
<text x="1108.92" y="1447.80" textLength="227.91" lengthAdjust="spacingAndGlyphs" style="font-family:'Liberation Sans', Arial, sans-serif;font-size:19.8px;font-weight:400;font-style:normal" fill="#2f2b24" >madhe për të mbrojtur të</text>
<text x="1109.44" y="1470.90" textLength="218.37" lengthAdjust="spacingAndGlyphs" style="font-family:'Liberation Sans', Arial, sans-serif;font-size:19.8px;font-weight:400;font-style:normal" fill="#2f2b24" >drejtën për një mjedis të</text>
<text x="1109.74" y="1494.00" textLength="121.70" lengthAdjust="spacingAndGlyphs" style="font-family:'Liberation Sans', Arial, sans-serif;font-size:19.8px;font-weight:400;font-style:normal" fill="#2f2b24" >shëndetshëm</text>
<text x="1112.29" y="1556.80" textLength="135.42" lengthAdjust="spacingAndGlyphs" style="font-family:'Liberation Sans', Arial, sans-serif;font-size:69.76744186046513px;font-weight:700;font-style:normal" fill="#5285A5"  stroke="#5285A5" stroke-width="1.6" stroke-linejoin="round">81,3</text>
<text x="1269.22" y="1556.70" textLength="61.97" lengthAdjust="spacingAndGlyphs" style="font-family:'Liberation Sans', Arial, sans-serif;font-size:68.28571428571429px;font-weight:400;font-style:normal" fill="#5285A5"  stroke="#5285A5" stroke-width="1.8" stroke-linejoin="round">%</text>
<text x="1108.97" y="1583.60" textLength="273.97" lengthAdjust="spacingAndGlyphs" style="font-family:'Liberation Sans', Arial, sans-serif;font-size:19.8px;font-weight:400;font-style:normal" fill="#2f2b24" >ndërsa gatishmëria më e vogël</text>
<text x="1109.74" y="1606.20" textLength="228.46" lengthAdjust="spacingAndGlyphs" style="font-family:'Liberation Sans', Arial, sans-serif;font-size:19.8px;font-weight:400;font-style:normal" fill="#2f2b24" >shprehet nga të rinjtë nga</text>
<text x="1108.65" y="1628.80" textLength="118.48" lengthAdjust="spacingAndGlyphs" style="font-family:'Liberation Sans', Arial, sans-serif;font-size:19.8px;font-weight:400;font-style:normal" fill="#2f2b24" >Rajoni Lindor</text>
<text x="1110.75" y="1690.20" textLength="148.50" lengthAdjust="spacingAndGlyphs" style="font-family:'Liberation Sans', Arial, sans-serif;font-size:70.34883720930233px;font-weight:700;font-style:normal" fill="#5285A5"  stroke="#5285A5" stroke-width="1.6" stroke-linejoin="round">27,6</text>
<text x="1278.32" y="1690.10" textLength="61.86" lengthAdjust="spacingAndGlyphs" style="font-family:'Liberation Sans', Arial, sans-serif;font-size:68.85714285714286px;font-weight:400;font-style:normal" fill="#5285A5"  stroke="#5285A5" stroke-width="1.8" stroke-linejoin="round">%</text>
<text x="569.49" y="895.00" textLength="311.11" lengthAdjust="spacingAndGlyphs" style="font-family:'Liberation Sans', Arial, sans-serif;font-size:22.5px;font-weight:400;font-style:normal" fill="#ffffff" >gatishmërinë më të vogël për</text>
<text x="570.42" y="922.00" textLength="325.19" lengthAdjust="spacingAndGlyphs" style="font-family:'Liberation Sans', Arial, sans-serif;font-size:22.5px;font-weight:400;font-style:normal" fill="#ffffff" >vullnetarizëm e kanë shprehur</text>
<text x="570.14" y="949.00" textLength="274.26" lengthAdjust="spacingAndGlyphs" style="font-family:'Liberation Sans', Arial, sans-serif;font-size:22.5px;font-weight:400;font-style:normal" fill="#ffffff" >të rinjtë nga Rajoni Lindor</text>
<text x="558.78" y="1593.00" textLength="328.62" lengthAdjust="spacingAndGlyphs" style="font-family:'Liberation Sans', Arial, sans-serif;font-size:22.5px;font-weight:400;font-style:normal" fill="#ffffff" >gatishmërinë më të madhe për</text>
<text x="559.72" y="1619.80" textLength="283.86" lengthAdjust="spacingAndGlyphs" style="font-family:'Liberation Sans', Arial, sans-serif;font-size:22.5px;font-weight:400;font-style:normal" fill="#ffffff" >vullnetarizëm e tregojnë të</text>
<text x="558.22" y="1646.60" textLength="321.44" lengthAdjust="spacingAndGlyphs" style="font-family:'Liberation Sans', Arial, sans-serif;font-size:22.5px;font-weight:400;font-style:normal" fill="#ffffff" >rinjtë nga Rajoni Juglindor dhe</text>
<text x="557.88" y="1673.40" textLength="205.76" lengthAdjust="spacingAndGlyphs" style="font-family:'Liberation Sans', Arial, sans-serif;font-size:22.5px;font-weight:400;font-style:normal" fill="#ffffff" >Rajoni i Pellagonisë</text>
<text x="794.33" y="1183.60" textLength="124.85" lengthAdjust="spacingAndGlyphs" style="font-family:'Liberation Sans', Arial, sans-serif;font-size:58.43023255813954px;font-weight:700;font-style:normal" fill="#ffffff"  stroke="#ffffff" stroke-width="1.6" stroke-linejoin="round">52,9</text>
<text x="939.11" y="1183.50" textLength="49.68" lengthAdjust="spacingAndGlyphs" style="font-family:'Liberation Sans', Arial, sans-serif;font-size:57.142857142857146px;font-weight:400;font-style:normal" fill="#ffffff"  stroke="#ffffff" stroke-width="1.8" stroke-linejoin="round">%</text>
<text x="882.72" y="1336.20" textLength="57.00" lengthAdjust="spacingAndGlyphs" style="font-family:'Liberation Sans', Arial, sans-serif;font-size:58.43023255813954px;font-weight:700;font-style:normal" fill="#ffffff"  stroke="#ffffff" stroke-width="1.6" stroke-linejoin="round">91</text>
<text x="960.56" y="1336.10" textLength="50.88" lengthAdjust="spacingAndGlyphs" style="font-family:'Liberation Sans', Arial, sans-serif;font-size:57.142857142857146px;font-weight:400;font-style:normal" fill="#ffffff"  stroke="#ffffff" stroke-width="1.8" stroke-linejoin="round">%</text>
<text x="558.96" y="1433.70" textLength="131.28" lengthAdjust="spacingAndGlyphs" style="font-family:'Liberation Sans', Arial, sans-serif;font-size:60.174418604651166px;font-weight:700;font-style:normal" fill="#ffffff"  stroke="#ffffff" stroke-width="1.6" stroke-linejoin="round">90,6</text>
<text x="707.88" y="1433.60" textLength="50.44" lengthAdjust="spacingAndGlyphs" style="font-family:'Liberation Sans', Arial, sans-serif;font-size:58.85714285714287px;font-weight:400;font-style:normal" fill="#ffffff"  stroke="#ffffff" stroke-width="1.8" stroke-linejoin="round">%</text>
<text x="68.27" y="1736.00" textLength="1309.47" lengthAdjust="spacingAndGlyphs" style="font-family:'Liberation Sans', Arial, sans-serif;font-size:18.5px;font-weight:400;font-style:italic" fill="#5a84a0" >Burimi: Analiza e rezultateve nga hulumtimi aksionar i realizuar „ Nga diversiteti në drejtësi - të barabartë në të drejtën përnjë mjedis të shëndetshëm dhe të</text>
<text x="612.30" y="1759.00" textLength="221.40" lengthAdjust="spacingAndGlyphs" style="font-family:'Liberation Sans', Arial, sans-serif;font-size:18.5px;font-weight:400;font-style:italic" fill="#5a84a0" >qëndrueshëm për të gjithë</text>
<g style="font-family:'Liberation Sans', Arial, sans-serif;font-size:16px;font-weight:400;font-style:normal" fill="#222222"><text x="67.50" y="1807.30" textLength="77.71" lengthAdjust="spacingAndGlyphs">Infografiku</text><text x="149.45" y="1807.30" textLength="40.71" lengthAdjust="spacingAndGlyphs">është</text><text x="194.39" y="1807.30" textLength="45.30" lengthAdjust="spacingAndGlyphs">krijuar</text><text x="243.94" y="1807.30" textLength="18.51" lengthAdjust="spacingAndGlyphs">në</text><text x="266.69" y="1807.30" textLength="50.88" lengthAdjust="spacingAndGlyphs">kuadër</text><text x="321.81" y="1807.30" textLength="13.88" lengthAdjust="spacingAndGlyphs">të</text><text x="339.92" y="1807.30" textLength="58.27" lengthAdjust="spacingAndGlyphs">projektit</text><text x="402.43" y="1807.30" textLength="30.50" lengthAdjust="spacingAndGlyphs">ZZZ</text><text x="437.18" y="1807.30" textLength="9.26" lengthAdjust="spacingAndGlyphs">–</text><text x="450.68" y="1807.30" textLength="67.52" lengthAdjust="spacingAndGlyphs">BASHKË</text><text x="522.44" y="1807.30" textLength="34.22" lengthAdjust="spacingAndGlyphs">PËR</text><text x="560.90" y="1807.30" textLength="63.49" lengthAdjust="spacingAndGlyphs">AVOKIM</text><text x="628.63" y="1807.30" textLength="21.27" lengthAdjust="spacingAndGlyphs">TË</text><text x="654.14" y="1807.30" textLength="75.84" lengthAdjust="spacingAndGlyphs">GJELBËR</text><text x="734.22" y="1807.30" textLength="34.22" lengthAdjust="spacingAndGlyphs">PËR</text><text x="772.68" y="1807.30" textLength="87.83" lengthAdjust="spacingAndGlyphs">MBROJTJE</text><text x="864.75" y="1807.30" textLength="21.27" lengthAdjust="spacingAndGlyphs">TË</text><text x="890.26" y="1807.30" textLength="78.59" lengthAdjust="spacingAndGlyphs">MJEDISIT,</text><text x="973.09" y="1807.30" textLength="68.46" lengthAdjust="spacingAndGlyphs">financuar</text><text x="1045.79" y="1807.30" textLength="27.77" lengthAdjust="spacingAndGlyphs">nga</text><text x="1077.80" y="1807.30" textLength="58.27" lengthAdjust="spacingAndGlyphs">Qeveria</text><text x="1140.31" y="1807.30" textLength="9.26" lengthAdjust="spacingAndGlyphs">e</text><text x="1153.81" y="1807.30" textLength="53.62" lengthAdjust="spacingAndGlyphs">Zvicrës</text><text x="1211.68" y="1807.30" textLength="55.49" lengthAdjust="spacingAndGlyphs">përmes</text><text x="1271.41" y="1807.30" textLength="50.85" lengthAdjust="spacingAndGlyphs">“Civica</text><text x="1326.50" y="1807.30" textLength="67.50" lengthAdjust="spacingAndGlyphs">Mobilita”,</text></g>
<g style="font-family:'Liberation Sans', Arial, sans-serif;font-size:16px;font-weight:400;font-style:normal" fill="#222222"><text x="67.50" y="1827.00" textLength="13.88" lengthAdjust="spacingAndGlyphs">të</text><text x="88.40" y="1827.00" textLength="100.81" lengthAdjust="spacingAndGlyphs">implementuar</text><text x="196.24" y="1827.00" textLength="27.77" lengthAdjust="spacingAndGlyphs">nga</text><text x="231.03" y="1827.00" textLength="55.51" lengthAdjust="spacingAndGlyphs">Qendra</text><text x="293.56" y="1827.00" textLength="96.22" lengthAdjust="spacingAndGlyphs">Maqedonase</text><text x="396.80" y="1827.00" textLength="24.05" lengthAdjust="spacingAndGlyphs">për</text><text x="427.87" y="1827.00" textLength="100.83" lengthAdjust="spacingAndGlyphs">Bashkëpunim</text><text x="535.72" y="1827.00" textLength="105.43" lengthAdjust="spacingAndGlyphs">Ndërkombëtar</text><text x="648.17" y="1827.00" textLength="9.26" lengthAdjust="spacingAndGlyphs">–</text><text x="664.46" y="1827.00" textLength="54.55" lengthAdjust="spacingAndGlyphs">QMBN,</text><text x="726.03" y="1827.00" textLength="50.86" lengthAdjust="spacingAndGlyphs">NIRAS</text><text x="783.91" y="1827.00" textLength="27.77" lengthAdjust="spacingAndGlyphs">nga</text><text x="818.70" y="1827.00" textLength="80.45" lengthAdjust="spacingAndGlyphs">Danimarka</text><text x="906.18" y="1827.00" textLength="27.77" lengthAdjust="spacingAndGlyphs">dhe</text><text x="940.97" y="1827.00" textLength="35.13" lengthAdjust="spacingAndGlyphs">FCG</text><text x="983.13" y="1827.00" textLength="27.77" lengthAdjust="spacingAndGlyphs">nga</text><text x="1017.92" y="1827.00" textLength="56.44" lengthAdjust="spacingAndGlyphs">Suedia.</text><text x="1081.38" y="1827.00" textLength="82.32" lengthAdjust="spacingAndGlyphs">Pikëpamjet</text><text x="1170.72" y="1827.00" textLength="9.26" lengthAdjust="spacingAndGlyphs">e</text><text x="1187.00" y="1827.00" textLength="74.93" lengthAdjust="spacingAndGlyphs">shprehura</text><text x="1268.95" y="1827.00" textLength="18.51" lengthAdjust="spacingAndGlyphs">në</text><text x="1294.48" y="1827.00" textLength="31.46" lengthAdjust="spacingAndGlyphs">këtë</text><text x="1332.96" y="1827.00" textLength="61.04" lengthAdjust="spacingAndGlyphs">publikim</text></g>
<g style="font-family:'Liberation Sans', Arial, sans-serif;font-size:16px;font-weight:400;font-style:normal" fill="#222222"><text x="67.50" y="1846.70" textLength="31.46" lengthAdjust="spacingAndGlyphs">janë</text><text x="106.25" y="1846.70" textLength="80.49" lengthAdjust="spacingAndGlyphs">përgjegjësi</text><text x="194.02" y="1846.70" textLength="45.32" lengthAdjust="spacingAndGlyphs">vetëm</text><text x="246.63" y="1846.70" textLength="9.26" lengthAdjust="spacingAndGlyphs">e</text><text x="263.18" y="1846.70" textLength="55.51" lengthAdjust="spacingAndGlyphs">autores</text><text x="325.98" y="1846.70" textLength="27.77" lengthAdjust="spacingAndGlyphs">dhe</text><text x="361.04" y="1846.70" textLength="18.51" lengthAdjust="spacingAndGlyphs">në</text><text x="386.83" y="1846.70" textLength="39.78" lengthAdjust="spacingAndGlyphs">asnjë</text><text x="433.90" y="1846.70" textLength="55.49" lengthAdjust="spacingAndGlyphs">mënyrë</text><text x="496.68" y="1846.70" textLength="26.83" lengthAdjust="spacingAndGlyphs">nuk</text><text x="530.80" y="1846.70" textLength="41.63" lengthAdjust="spacingAndGlyphs">mund</text><text x="579.72" y="1846.70" textLength="13.88" lengthAdjust="spacingAndGlyphs">të</text><text x="600.88" y="1846.70" textLength="95.29" lengthAdjust="spacingAndGlyphs">konsiderohet</text><text x="703.46" y="1846.70" textLength="17.58" lengthAdjust="spacingAndGlyphs">se</text><text x="728.33" y="1846.70" textLength="81.41" lengthAdjust="spacingAndGlyphs">pasqyrojnë</text><text x="817.03" y="1846.70" textLength="80.47" lengthAdjust="spacingAndGlyphs">pikëpamjet</text><text x="904.79" y="1846.70" textLength="9.26" lengthAdjust="spacingAndGlyphs">e</text><text x="921.34" y="1846.70" textLength="66.59" lengthAdjust="spacingAndGlyphs">Qeverisë</text><text x="995.22" y="1846.70" textLength="17.58" lengthAdjust="spacingAndGlyphs">së</text><text x="1020.09" y="1846.70" textLength="58.24" lengthAdjust="spacingAndGlyphs">Zvicrës,</text><text x="1085.62" y="1846.70" textLength="50.85" lengthAdjust="spacingAndGlyphs">“Civica</text><text x="1143.75" y="1846.70" textLength="71.21" lengthAdjust="spacingAndGlyphs">Mobilitas”</text><text x="1222.25" y="1846.70" textLength="26.83" lengthAdjust="spacingAndGlyphs">ose</text><text x="1256.36" y="1846.70" textLength="95.29" lengthAdjust="spacingAndGlyphs">organizatave</text><text x="1358.94" y="1846.70" textLength="18.51" lengthAdjust="spacingAndGlyphs">që</text><text x="1384.74" y="1846.70" textLength="9.26" lengthAdjust="spacingAndGlyphs">e</text></g>
<text x="67.50" y="1866.40" textLength="75.86" lengthAdjust="spacingAndGlyphs" style="font-family:'Liberation Sans', Arial, sans-serif;font-size:16px;font-weight:400;font-style:normal" fill="#222222" >realizojnë.</text>
<text x="313.70" y="1937.00" textLength="203.50" lengthAdjust="spacingAndGlyphs" style="font-family:'Liberation Sans', Arial, sans-serif;font-size:20.5px;font-weight:700;font-style:normal" fill="#111" >Центар за Социјални</text>
<text x="313.70" y="1962.00" textLength="204.00" lengthAdjust="spacingAndGlyphs" style="font-family:'Liberation Sans', Arial, sans-serif;font-size:20.5px;font-weight:700;font-style:normal" fill="#111" >Иницијативи НАДЕЖ</text>
<text x="720.26" y="1922.60" textLength="67.14" lengthAdjust="spacingAndGlyphs" style="font-family:'Liberation Sans', Arial, sans-serif;font-size:31.68604651162791px;font-weight:700;font-style:normal" fill="#4a9a3c" >ЗСРМ</text>
<text x="704.13" y="1950.00" textLength="96.39" lengthAdjust="spacingAndGlyphs" style="font-family:'Liberation Sans', Arial, sans-serif;font-size:13.5px;font-weight:700;font-style:normal" fill="#4a9a3c" >ЗДРУЖЕНИЕ НА</text>
<text x="666.91" y="1963.80" textLength="173.40" lengthAdjust="spacingAndGlyphs" style="font-family:'Liberation Sans', Arial, sans-serif;font-size:13.5px;font-weight:700;font-style:normal" fill="#4a9a3c" >СОЦИЈАЛНИ РАБОТНИЦИ НА</text>
<text x="711.81" y="1977.70" textLength="83.30" lengthAdjust="spacingAndGlyphs" style="font-family:'Liberation Sans', Arial, sans-serif;font-size:13.5px;font-weight:700;font-style:normal" fill="#4a9a3c" >МАКЕДОНИЈА</text>
<text x="931.22" y="1972.00" textLength="180.39" lengthAdjust="spacingAndGlyphs" style="font-family:'Liberation Sans', Arial, sans-serif;font-size:45.34883720930233px;font-weight:700;font-style:normal" fill="#959595" >CIVICA</text>
<text x="1007.38" y="1991.00" textLength="103.52" lengthAdjust="spacingAndGlyphs" style="font-family:'Liberation Sans', Arial, sans-serif;font-size:14.534883720930234px;font-weight:400;font-style:normal" fill="#959595" >MOBILITAS</text>
<text x="1195.62" y="1897.00" textLength="200.47" lengthAdjust="spacingAndGlyphs" style="font-family:'Liberation Sans', Arial, sans-serif;font-size:12.4px;font-weight:400;font-style:normal" fill="#3a3a3a" >Schweizerische Eidgenossenschaft</text>
<text x="1195.53" y="1913.45" textLength="123.65" lengthAdjust="spacingAndGlyphs" style="font-family:'Liberation Sans', Arial, sans-serif;font-size:12.4px;font-weight:400;font-style:normal" fill="#3a3a3a" >Confédération suisse</text>
<text x="1195.54" y="1929.90" textLength="144.06" lengthAdjust="spacingAndGlyphs" style="font-family:'Liberation Sans', Arial, sans-serif;font-size:12.4px;font-weight:400;font-style:normal" fill="#3a3a3a" >Confederazione Svizzera</text>
<text x="1195.53" y="1946.35" textLength="123.07" lengthAdjust="spacingAndGlyphs" style="font-family:'Liberation Sans', Arial, sans-serif;font-size:12.4px;font-weight:400;font-style:normal" fill="#3a3a3a" >Confederaziun svizra</text>
<text x="1195.85" y="1979.00" textLength="178.29" lengthAdjust="spacingAndGlyphs" style="font-family:'Liberation Sans', Arial, sans-serif;font-size:12.4px;font-weight:700;font-style:normal" fill="#222" >Swiss Agency for Development</text>
<text x="1195.85" y="1995.00" textLength="122.47" lengthAdjust="spacingAndGlyphs" style="font-family:'Liberation Sans', Arial, sans-serif;font-size:12.4px;font-weight:700;font-style:normal" fill="#222" >and Cooperation SDC</text>

</svg>
</body></html>
